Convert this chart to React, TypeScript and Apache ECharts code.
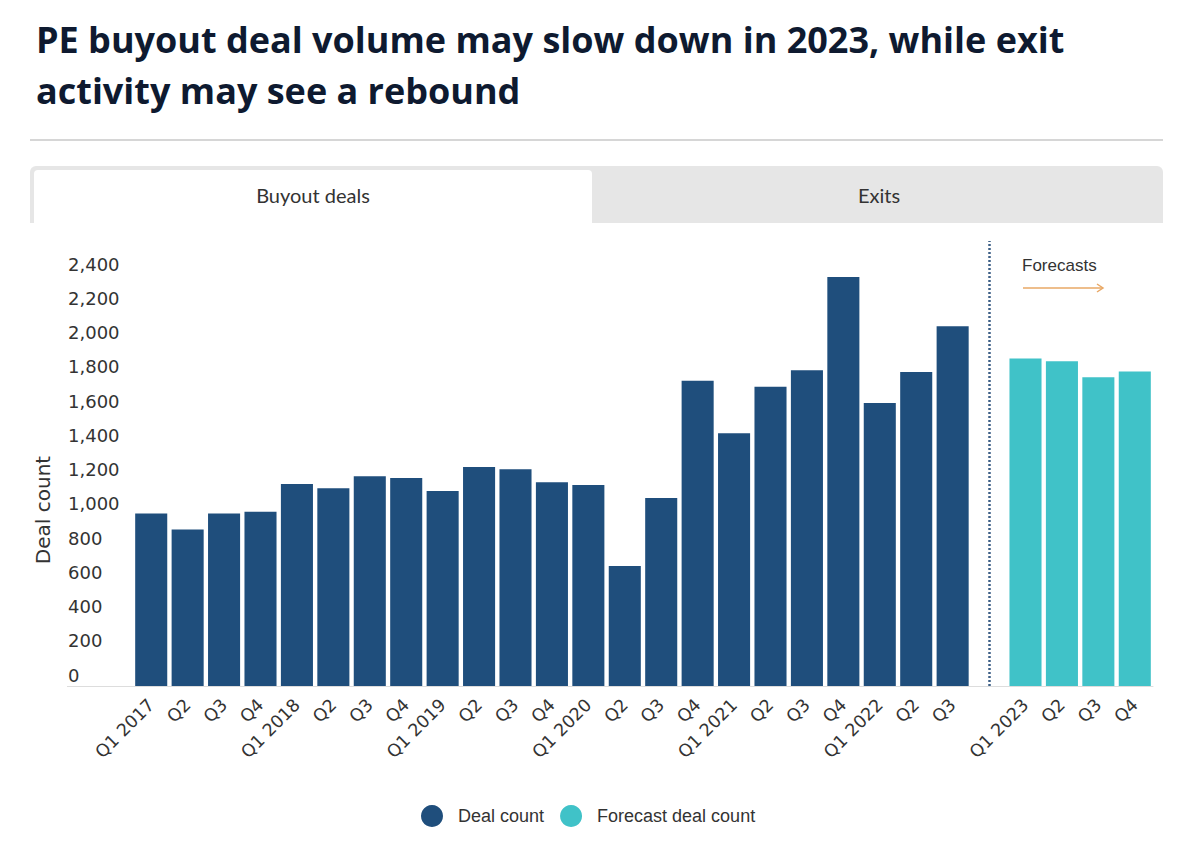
import React, { useEffect, useRef } from "react";
import * as echarts from "echarts";

const categories = [
  "Q1 2017", "Q2", "Q3", "Q4",
  "Q1 2018", "Q2", "Q3", "Q4",
  "Q1 2019", "Q2", "Q3", "Q4",
  "Q1 2020", "Q2", "Q3", "Q4",
  "Q1 2021", "Q2", "Q3", "Q4",
  "Q1 2022", "Q2", "Q3", "",
  "Q1 2023", "Q2", "Q3", "Q4",
];

const dealCount = [
  1008, 915, 1008, 1018,
  1180, 1156, 1226, 1215,
  1139, 1279, 1267, 1191,
  1174, 701, 1098, 1783,
  1477, 1748, 1845, 2390,
  1654, 1835, 2102,
];

const forecastDealCount = [1914, 1898, 1804, 1838];

const yTicks = { min: 0, max: 2600, interval: 200 };
const forecastDividerIndex = 23;

const TITLE = "PE buyout deal volume may slow down in 2023, while exit\nactivity may see a rebound";

export default function App() {
  const ref = useRef<HTMLDivElement>(null);

  useEffect(() => {
    if (!ref.current) return;
    const chart = echarts.init(ref.current, undefined, { renderer: "svg" });

    const dealData = categories.map((_, i) => (i < dealCount.length ? dealCount[i] : null));
    const fcStart = categories.length - forecastDealCount.length;
    const fcData = categories.map((_, i) => (i >= fcStart ? forecastDealCount[i - fcStart] : null));

    const axisFont = "'DejaVu Sans', sans-serif";

    chart.setOption({
      animation: false,
      backgroundColor: "#ffffff",
      title: {
        text: TITLE,
        left: 31,
        top: 9,
        textStyle: {
          fontFamily: "'Open Sans', Lato, sans-serif",
          fontWeight: 700,
          fontSize: 36,
          lineHeight: 51,
          color: "#0e1a30",
        },
      },
      legend: {
        left: 416,
        top: 800,
        icon: "circle",
        itemWidth: 22,
        itemHeight: 22,
        itemGap: 16,
        selectedMode: false,
        textStyle: {
          fontFamily: "'Liberation Sans', Arial, sans-serif",
          fontSize: 18,
          color: "#333333",
          padding: [0, 0, 0, 10],
        },
        data: ["Deal count", "Forecast deal count"],
      },
      grid: { left: 133, right: 47, top: 241, bottom: 158, containLabel: false },
      xAxis: {
        type: "category",
        data: categories,
        axisTick: { show: false },
        axisLine: { lineStyle: { color: "#dddddd", width: 1 } },
        axisLabel: {
          interval: 0,
          rotate: 45,
          margin: 16,
          fontFamily: axisFont,
          fontSize: 17.5,
          color: "#333333",
        },
      },
      yAxis: {
        type: "value",
        min: yTicks.min,
        max: yTicks.max,
        interval: yTicks.interval,
        splitLine: { show: false },
        axisLine: { show: false },
        axisTick: { show: false },
        axisLabel: {
          align: "left",
          margin: 65,
          verticalAlign: "bottom",
          padding: [0, 0, 2, 0],
          fontFamily: axisFont,
          fontSize: 18,
          color: "#333333",
          formatter: (v: number) => (v === yTicks.max ? "" : v.toLocaleString("en-US")),
        },
      },
      series: [
        {
          name: "Deal count",
          type: "bar",
          data: dealData,
          barGap: "-100%",
          barCategoryGap: "12%",
          itemStyle: { color: "#1f4e7c" },
          markLine: {
            silent: true,
            symbol: ["none", "none"],
            label: { show: false },
            lineStyle: { type: [2, 2], color: "#3d5f86", width: 2.5 },
            data: [{ xAxis: forecastDividerIndex }],
          },
        },
        {
          name: "Forecast deal count",
          type: "bar",
          data: fcData,
          barGap: "-100%",
          barCategoryGap: "12%",
          itemStyle: { color: "#40c2c8" },
        },
      ],
      graphic: [
        {
          type: "line",
          shape: { x1: 30, y1: 140, x2: 1163, y2: 140 },
          style: { stroke: "#c9c9c9", lineWidth: 1.5 },
        },
        {
          type: "rect",
          shape: { x: 30, y: 166, width: 1133, height: 57, r: [6, 6, 0, 0] },
          style: { fill: "#e6e6e6" },
        },
        {
          type: "rect",
          shape: { x: 34, y: 170, width: 558, height: 53, r: [4, 4, 0, 0] },
          style: { fill: "#ffffff" },
        },
        {
          type: "text",
          x: 313,
          y: 195,
          style: {
            text: "Buyout deals",
            align: "center",
            verticalAlign: "middle",
            fontFamily: "Lato, 'Open Sans', sans-serif",
            fontSize: 20,
            fill: "#333333",
          },
        },
        {
          type: "text",
          x: 879,
          y: 195,
          style: {
            text: "Exits",
            align: "center",
            verticalAlign: "middle",
            fontFamily: "Lato, 'Open Sans', sans-serif",
            fontSize: 20,
            fill: "#333333",
          },
        },
        {
          type: "text",
          x: 43,
          y: 510,
          rotation: Math.PI / 2,
          style: {
            text: "Deal count",
            align: "center",
            verticalAlign: "middle",
            fontFamily: axisFont,
            fontSize: 20,
            fill: "#333333",
          },
        },
        {
          type: "line",
          shape: { x1: 67, y1: 686.5, x2: 133, y2: 686.5 },
          style: { stroke: "#dddddd", lineWidth: 1 },
        },
        {
          type: "text",
          x: 1022,
          y: 265,
          style: {
            text: "Forecasts",
            verticalAlign: "middle",
            fontFamily: "'Liberation Sans', Arial, sans-serif",
            fontSize: 17,
            fill: "#333333",
          },
        },
        {
          type: "line",
          shape: { x1: 1023, y1: 288, x2: 1103, y2: 288 },
          style: { stroke: "#e9a866", lineWidth: 1.5 },
        },
        {
          type: "polyline",
          shape: { points: [[1097, 284], [1103, 288], [1097, 292]] },
          style: { stroke: "#e9a866", lineWidth: 1.5, fill: "none" },
        },
      ],
    });

    return () => chart.dispose();
  }, []);

  return (
    <div
      ref={ref}
      style={{ position: "absolute", left: 0, top: 0, width: 1200, height: 844 }}
    />
  );
}
